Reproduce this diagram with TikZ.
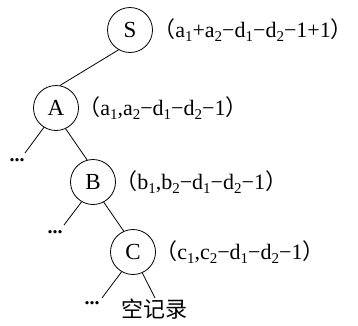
\documentclass[tikz,border=0pt]{standalone}
\usepackage{fontspec}
\setmainfont{Liberation Serif}
\newfontfamily\cjk{Noto Sans CJK SC}
\usetikzlibrary{positioning}
\newcommand{\sbs}[1]{\raisebox{-0.35ex}{\fontsize{15}{15}\selectfont #1}}
\newcommand{\lp}{{\cjk （}}
\newcommand{\rp}{{\cjk ）}}

\begin{document}
\begin{tikzpicture}[x=1pt,y=-1pt,thick,
                    vertex/.style={draw,circle,minimum size=45pt,inner sep=0pt,
                                   font=\fontsize{23}{25}\selectfont},
                    weight/.style={inner sep=0pt,font=\fontsize{22}{24}\selectfont},
                    more/.style={inner sep=0pt,font=\fontsize{20}{22}\selectfont\bfseries}]
  \useasboundingbox (0,0) rectangle (358,325);
  \node[vertex] (S) at (130,30) {S};
  \node[vertex] (A) at (56,108) {A};
  \node[vertex] (B) at (93,182) {B};
  \node[vertex] (C) at (133,252) {C};
  \node[weight,right=0pt of S] (wS) {\lp a\sbs{1}+a\sbs{2}−d\sbs{1}−d\sbs{2}−1+1\rp};
  \node[weight,right=-1pt of A] (wA) {\lp a\sbs{1},a\sbs{2}−d\sbs{1}−d\sbs{2}−1\rp};
  \node[weight,right=-1pt of B] (wB) {\lp b\sbs{1},b\sbs{2}−d\sbs{1}−d\sbs{2}−1\rp};
  \node[weight,right=-1pt of C] (wC) {\lp c\sbs{1},c\sbs{2}−d\sbs{1}−d\sbs{2}−1\rp};
  % loose ends of the tree
  \coordinate (eA) at (25,153);
  \coordinate (eB) at (64,225);
  \coordinate (eC) at (102,298);
  \coordinate (eN) at (155,298);
  \node[more] (dA) at (17,160) {...};
  \node[more] (dB) at (55,232) {...};
  \node[more] (dC) at (92,303) {...};
  \node[weight,anchor=west,font=\fontsize{22}{24}\selectfont] (null) at (121,309) {\cjk 空记录};
  \draw (S.-120) -- (A.80);
  \draw (A.-65) -- (B.105);
  \draw (B.-62) -- (C.114);
  \draw (A.-122) -- (eA);
  \draw (B.-120) -- (eB);
  \draw (C.-120) -- (eC);
  \draw (C.-66) -- (eN);
\end{tikzpicture}
\end{document}
